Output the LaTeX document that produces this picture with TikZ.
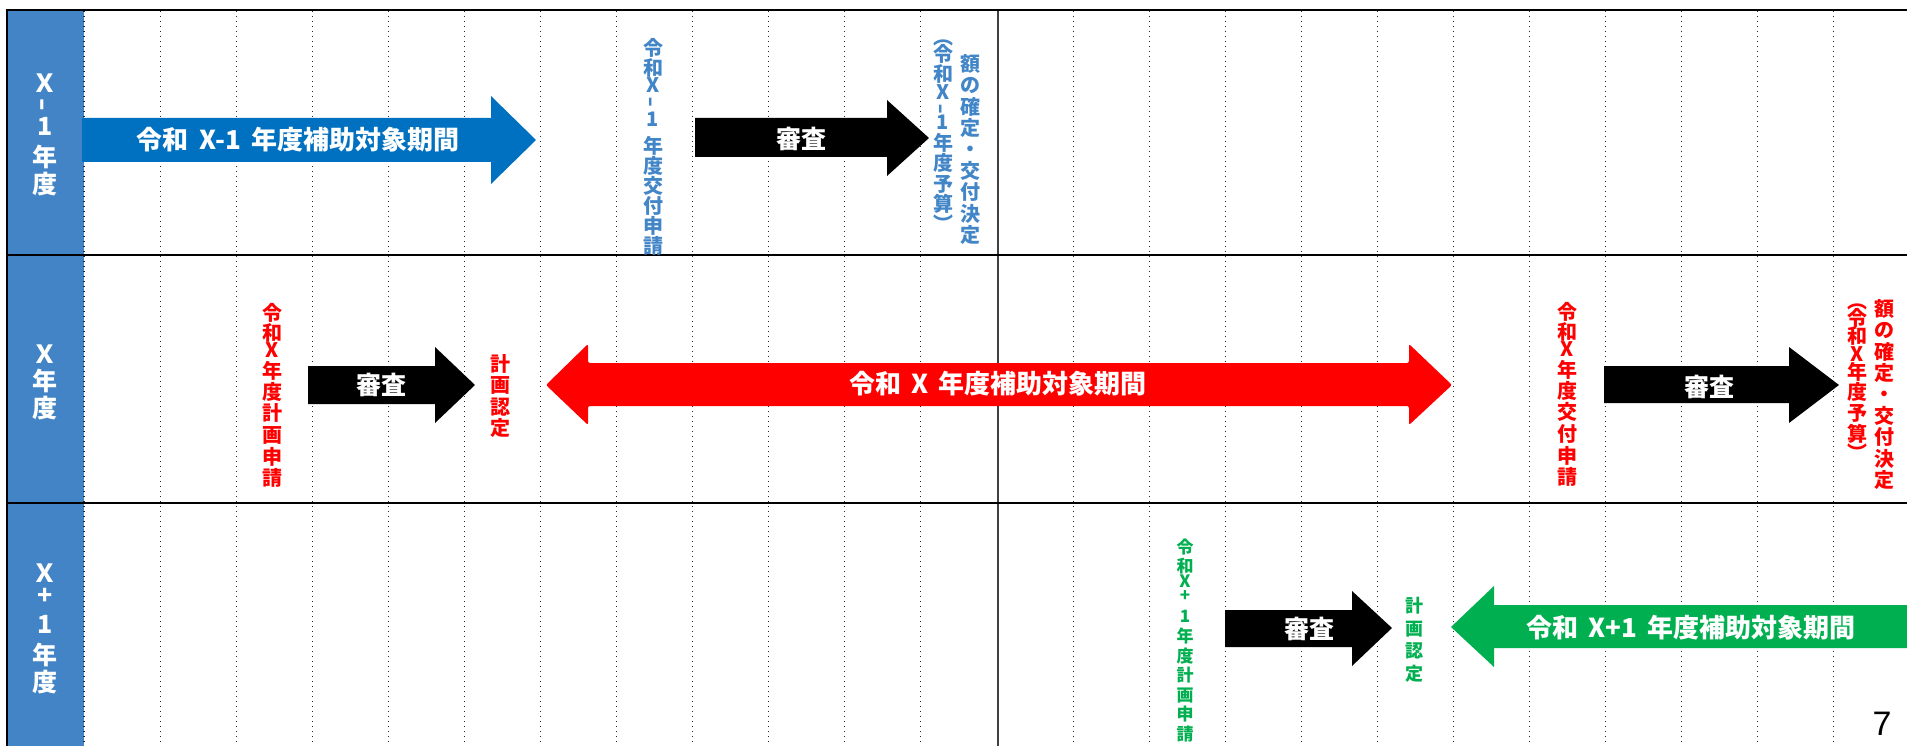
\documentclass[tikz,border=0pt]{standalone}
\usepackage{fontspec}
\usepackage{graphicx}
\setmainfont{Noto Sans CJK JP}
\newfontfamily\latf{Liberation Sans}
\definecolor{colblue}{RGB}{66,132,197}
\definecolor{arrblue}{RGB}{0,112,192}
\definecolor{txtblue}{RGB}{66,134,200}
\definecolor{jred}{RGB}{255,0,0}
\definecolor{jgreen}{RGB}{0,176,80}
\definecolor{gridgray}{RGB}{64,64,64}
\newcommand{\rh}{\rotatebox[origin=c]{90}{\scalebox{1.4}[1]{-}}}
\newcommand{\wsp}{\hspace{0.4em}}
\tikzset{
  griddot/.style={line width=1.1pt, black!85, dash pattern=on 1.1pt off 3.9pt},
  sepline/.style={line width=2.6pt, black},
  arrlabel/.style={text=white, inner sep=0pt, font=\bfseries\fontsize{26}{26}\selectfont},
  shinsa/.style={text=white, inner sep=0pt, font=\bfseries\fontsize{25}{25}\selectfont},
  vt/.style={align=center, inner sep=0pt, anchor=north},
  vtA/.style={vt, font=\bfseries\fontsize{20}{20}\selectfont},
  vtB/.style={vt, font=\bfseries\fontsize{20}{21.4}\selectfont},
  vtC/.style={vt, font=\bfseries\fontsize{20}{21}\selectfont},
  vtG/.style={vt, font=\bfseries\fontsize{17}{19.5}\selectfont},
  yearlbl/.style={vt, text=white, font=\bfseries\fontsize{25}{27}\selectfont},
}
\begin{document}
\begin{tikzpicture}[x=1pt,y=-1pt]
\useasboundingbox (0,0) rectangle (1907,746);
\fill[white] (0,0) rectangle (1907,746);
% label column
\fill[colblue] (7,10) rectangle (84,746);
% grid
\foreach \i in {0,...,11,13,14,...,24}{
  \draw[griddot] ({84+\i*76.08},11) -- ({84+\i*76.08},746);
}
\draw[line width=1.5pt, gridgray] (998,10) -- (998,746);
% separators and frame
\draw[sepline] (7,255) -- (1907,255);
\draw[sepline] (7,503) -- (1907,503);
\draw[line width=2.6pt] (1907,10) -- (7,10) -- (7,746);

% ---- row X-1 ----
\fill[arrblue] (82,118) -- (491,118) -- (491,96) -- (536,140) -- (491,184) -- (491,162) -- (82,162) -- cycle;
\node[arrlabel] (pA) at (298,140) {令和\wsp X-1\wsp 年度補助対象期間};
\fill[black] (695,118) -- (887,118) -- (887,100) -- (929,138) -- (887,176) -- (887,157) -- (695,157) -- cycle;
\node[shinsa] (s1) at (801,139) {審査};
\node[vtA, text=txtblue] (a1) at (653,38) {令\\和\\[-2.5pt]X\\[-7pt]\rh\\[0.5pt]1\\[7pt]年\\度\\交\\付\\申\\請};
\node[vtB, text=txtblue] (a2r) at (970,54) {額\\の\\確\\定\\・\\交\\付\\決\\定};
\node[vtC, text=txtblue] (a2l) at (943,40) {︵\\[-4pt]令\\[-1pt]和\\[-3.5pt]X\\[-8pt]\rh\\[-3.5pt]1\\[0pt]年\\[-1pt]度\\[-0.5pt]予\\[-1pt]算\\[-1pt]︶};

% ---- row X ----
\node[vtC, text=jred] (b1) at (272,303) {令\\[-1pt]和\\[-3.5pt]X\\[-0.5pt]年\\度\\計\\[1pt]画\\[1pt]申\\請};
\fill[black] (308,366) -- (435,366) -- (435,347) -- (475,385) -- (435,423) -- (435,404) -- (308,404) -- cycle;
\node[shinsa] (s2) at (381,385) {審査};
\node[vt, text=jred, font=\bfseries\fontsize{20}{21.5}\selectfont] (b2) at (500,354) {計\\画\\認\\定};
\fill[jred, rounded corners=2pt] (546,385) -- (588,344) -- (588,363) -- (1409,363) -- (1409,344) -- (1452,385) -- (1409,425) -- (1409,406) -- (588,406) -- (588,425) -- cycle;
\node[arrlabel] (pB) at (998,384) {令和\wsp X\wsp 年度補助対象期間};
\node[vtC, text=jred] (b3) at (1567,302) {令\\[-1pt]和\\[-3.5pt]X\\[-0.5pt]年\\度\\交\\[1pt]付\\[1pt]申\\請};
\fill[black] (1604,366) -- (1789,366) -- (1789,347) -- (1839,385) -- (1789,423) -- (1789,403) -- (1604,403) -- cycle;
\node[shinsa] (s3) at (1709,387) {審査};
\node[vtB, text=jred] (b4r) at (1884,299) {額\\の\\確\\定\\・\\交\\付\\決\\定};
\node[vtC, text=jred] (b4l) at (1857,304) {︵\\[-4pt]令\\[-3pt]和\\[-3.5pt]X\\[-3pt]年\\[-1pt]度\\予\\算\\[-1.5pt]︶};

% ---- row X+1 ----
\node[vtG, text=jgreen] (c1) at (1185,539) {令\\[-0.5pt]和\\[-4.5pt]X\\[-5.5pt]+\\[1.5pt]1\\[0.5pt]年\\度\\計\\画\\申\\請};
\fill[black] (1225,610) -- (1352,610) -- (1352,591) -- (1392,628) -- (1352,666) -- (1352,647) -- (1225,647) -- cycle;
\node[shinsa] (s4) at (1309,629) {審査};
\node[vt, text=jgreen, font=\bfseries\fontsize{18}{22.5}\selectfont] (c2) at (1414,597) {計\\画\\認\\定};
\fill[jgreen] (1451,627) -- (1494,586) -- (1494,605) -- (1915,605) -- (1915,648) -- (1494,648) -- (1494,667) -- cycle;
\node[arrlabel] (pC) at (1691,628) {令和\wsp X+1\wsp 年度補助対象期間};

% ---- year labels ----
\node[yearlbl] (y1) at (45,74) {Ｘ\\[-11pt]\rh\\1\\[4pt]年\\度};
\node[yearlbl] (y2) at (45,345) {Ｘ\\年\\度};
\node[yearlbl] (y3) at (45,564) {Ｘ\\[-5pt]+\\[2pt]1\\[4pt]年\\度};

% page number
\node[inner sep=0pt, font=\latf\fontsize{34}{34}\selectfont] (pg) at (1882,724) {7};
\end{tikzpicture}
\end{document}
